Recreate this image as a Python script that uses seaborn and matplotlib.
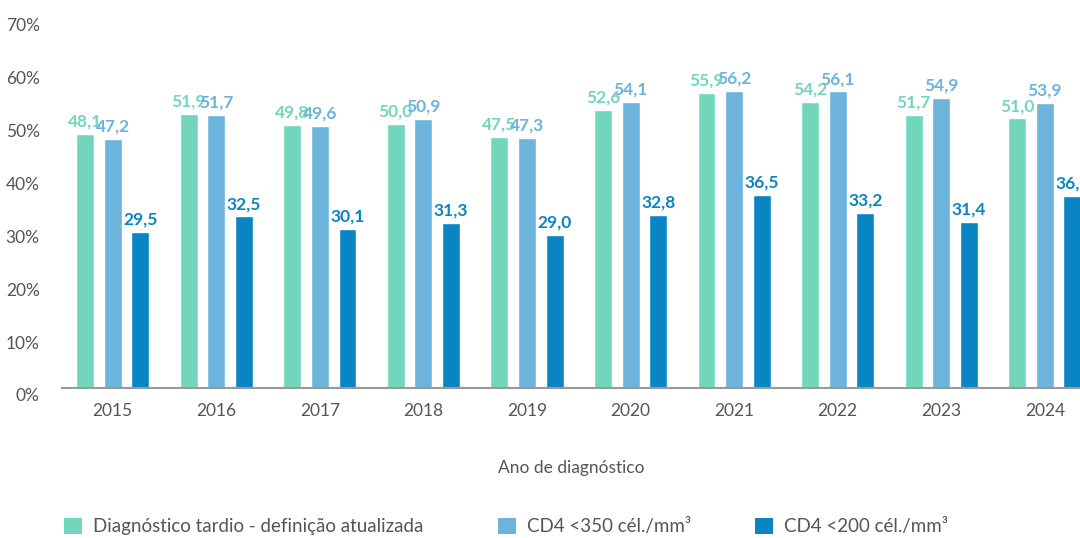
import numpy as np
import pandas as pd
import matplotlib
matplotlib.use('Agg')
import matplotlib.pyplot as plt
import matplotlib.transforms as mtransforms
from matplotlib.patches import Patch
import seaborn as sns

# --- data ---
anos = ['2015', '2016', '2017', '2018', '2019', '2020', '2021', '2022', '2023', '2024']
series = ['Diagnóstico tardio - definição atualizada',
          'CD4 <350 cél./mm³',
          'CD4 <200 cél./mm³']
tardio = [48.1, 51.9, 49.8, 50.0, 47.5, 52.6, 55.9, 54.2, 51.7, 51.0]
cd4_350 = [47.2, 51.7, 49.6, 50.9, 47.3, 54.1, 56.2, 56.1, 54.9, 53.9]
cd4_200 = [29.5, 32.5, 30.1, 31.3, 29.0, 32.8, 36.5, 33.2, 31.4, 36.3]
cores = ['#72D6BD', '#6CB4DC', '#0A85C4']

df = pd.DataFrame({
    'Ano': anos * 3,
    'Serie': [series[0]] * 10 + [series[1]] * 10 + [series[2]] * 10,
    'Valor': tardio + cd4_350 + cd4_200,
})

sns.set_style('white')
plt.rcParams['font.family'] = ['Lato', 'DejaVu Sans']
texto = '#555555'

fig = plt.figure(figsize=(10.8, 5.38), dpi=100)
ax = fig.add_axes([62 / 1080, 1 - 388 / 538, 1 - 62 / 1080, (388 - 18) / 538])

sns.barplot(data=df, x='Ano', y='Valor', hue='Serie', hue_order=series,
            palette=cores, width=0.8, gap=0.35, saturation=1,
            legend=False, ax=ax)

# value labels above each bar, in the series colour
for cont, cor in zip(ax.containers, cores):
    rotulos = [f'{v:.1f}'.replace('.', ',') for v in cont.datavalues]
    ax.bar_label(cont, labels=rotulos, padding=3, color=cor,
                 fontsize=12.5, fontweight='bold')

ax.set_ylim(0, 70)
ax.set_xlim(-0.49, 9.34)
ax.set_yticks(range(0, 71, 10))
ax.set_yticklabels([f'{v}%' for v in range(0, 71, 10)])
ax.tick_params(axis='both', length=0, labelsize=12.5, labelcolor=texto)
ax.tick_params(axis='y', pad=16)
ax.tick_params(axis='x', pad=11)
desl = mtransforms.ScaledTranslation(0, -5 / 72, fig.dpi_scale_trans)
for lab in ax.get_yticklabels():
    lab.set_transform(lab.get_transform() + desl)

ax.set_ylabel('')
ax.set_xlabel('Ano de diagnóstico', fontsize=12.5, color=texto, labelpad=29)

for s in ['top', 'right', 'left']:
    ax.spines[s].set_visible(False)
ax.spines['bottom'].set_color('#999999')
ax.spines['bottom'].set_linewidth(1.5)

# one legend entry per series, spaced like the reference
for nome, cor, x0 in zip(series, cores, [47, 481, 738]):
    fig.legend([Patch(facecolor=cor, edgecolor='none')], [nome],
               loc='lower left', bbox_to_anchor=(x0 / 1080, -0.026),
               frameon=False, fontsize=13.5, labelcolor=texto,
               handlelength=0.96, handleheight=0.96, handletextpad=0.6)

fig.savefig('out.png', dpi=100)
